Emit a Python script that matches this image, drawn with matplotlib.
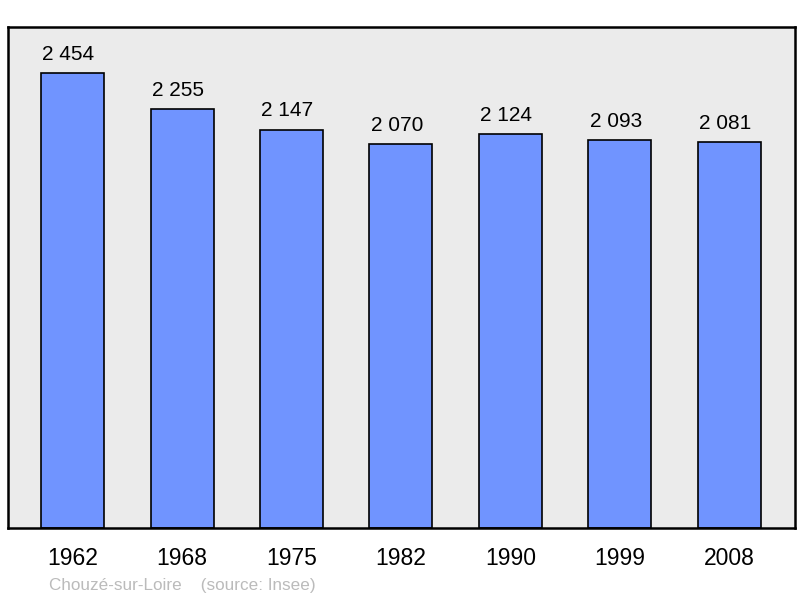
import numpy as np
import matplotlib.pyplot as plt

plt.rcParams['font.family'] = ['Liberation Sans', 'DejaVu Sans']

years = ["1962", "1968", "1975", "1982", "1990", "1999", "2008"]
population = [2454, 2255, 2147, 2070, 2124, 2093, 2081]
value_labels = ["2 454", "2 255", "2 147", "2 070", "2 124", "2 093", "2 081"]

fig = plt.figure(figsize=(8, 5.98), dpi=100)
ax = fig.add_axes([8 / 800, 70 / 598, 787 / 800, 501 / 598])
ax.set_facecolor("#ebebeb")

x = np.arange(len(years))
ax.bar(x, population, width=0.575, color="#7094ff", edgecolor="black", linewidth=1.2, zorder=2)

# value above each bar, nudged a little to the left like the original
for xi, v, lab in zip(x, population, value_labels):
    ax.annotate(lab, (xi, v), xytext=(-3, 6.5), textcoords="offset points",
                ha="center", va="bottom", fontsize=15)

ax.set_xlim(-0.59, 6.6)
ax.set_ylim(0, max(population) * 1.1)
ax.set_xticks(x)
ax.set_xticklabels(years, fontsize=16.5)
ax.tick_params(axis="x", length=0, pad=14)
ax.set_yticks([])
for s in ax.spines.values():
    s.set_linewidth(1.8)

fig.text(49 / 800, 1 - 590 / 598, "Chouzé-sur-Loire    (source: Insee)",
         fontsize=12.3, color="#bbbbbb", ha="left", va="baseline")

fig.savefig("out.png", dpi=100)
